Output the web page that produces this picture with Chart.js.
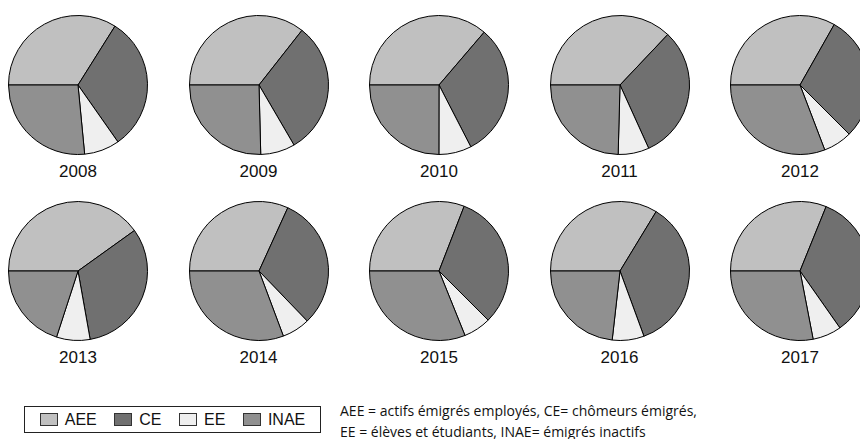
<!DOCTYPE html>
<html>
<head>
<meta charset="utf-8">
<script src="https://cdn.jsdelivr.net/npm/chart.js@4"></script>
<style>
  html, body { margin: 0; padding: 0; background: #fff; }
  body { width: 860px; height: 439px; position: relative; overflow: hidden; font-family: "Liberation Sans", Arial, sans-serif; }
  .pie { position: absolute; }
  .year { position: absolute; width: 100px; text-align: center; font-size: 17px; color: #111; line-height: 20px; }
  .legend { position: absolute; left: 24px; top: 406px; width: 297px; height: 27px; border: 1px solid #222; box-sizing: border-box;
    display: flex; align-items: center; justify-content: space-around; padding: 0 6px; font-size: 16px; color: #111; }
  .legend span.sw { display: inline-block; width: 16px; height: 11px; border: 1px solid #333; margin-right: 7px; vertical-align: -1px; }
  .note { position: absolute; left: 340px; top: 400px; font-family: "Open Sans", sans-serif; font-size: 14px; line-height: 21px; color: #111; }
</style>
</head>
<body>
<div id="wrap"></div>
<div class="legend" id="legend"></div>
<div class="note">AEE = actifs émigrés employés, CE= chômeurs émigrés,<br>EE = élèves et étudiants, INAE= émigrés inactifs</div>
<script>
// shares in %
const years = ['2008', '2009', '2010', '2011', '2012', '2013', '2014', '2015', '2016', '2017'];
const categories = ['AEE', 'CE', 'EE', 'INAE'];
const aee  = [33.9, 35.6, 36.3, 37.1, 33.2, 40.1, 31.8, 30.9, 33.7, 31.1];
const ce   = [31.3, 31.0, 31.2, 31.2, 29.3, 32.1, 31.0, 31.6, 35.7, 34.1];
const ee   = [8.2, 8.0, 7.6, 7.2, 6.7, 7.8, 6.5, 6.4, 7.4, 6.7];
const inae = [26.5, 25.4, 25.0, 24.6, 30.8, 20.0, 30.7, 31.1, 23.2, 28.0];
const colors = ['#c0c0c0', '#707070', '#efefef', '#909090'];

const wrap = document.getElementById('wrap');
const size = 150;

years.forEach((year, i) => {
  const col = i % 5, row = Math.floor(i / 5);
  const cx = 78 + col * 180.5;
  const cy = row === 0 ? 85 : 271;

  const canvas = document.createElement('canvas');
  canvas.className = 'pie';
  canvas.width = size; canvas.height = size;
  canvas.style.left = (cx - size / 2) + 'px';
  canvas.style.top = (cy - size / 2) + 'px';
  wrap.appendChild(canvas);

  const label = document.createElement('div');
  label.className = 'year';
  label.textContent = year;
  label.style.left = (cx - 50) + 'px';
  label.style.top = (cy + 77) + 'px';
  wrap.appendChild(label);

  new Chart(canvas, {
    type: 'pie',
    data: {
      labels: categories,
      datasets: [{
        data: [aee[i], ce[i], ee[i], inae[i]],
        backgroundColor: colors,
        borderColor: '#000', borderWidth: 1
      }]
    },
    options: {
      responsive: false, animation: false, events: [],
      rotation: 270, radius: 69.5,
      layout: { padding: 0 },
      plugins: { legend: { display: false }, tooltip: { enabled: false } }
    }
  });
});

const legend = document.getElementById('legend');
categories.forEach((c, k) => {
  const item = document.createElement('div');
  item.innerHTML = '<span class="sw" style="background:' + colors[k] + '"></span>' + c;
  legend.appendChild(item);
});
</script>
</body>
</html>
